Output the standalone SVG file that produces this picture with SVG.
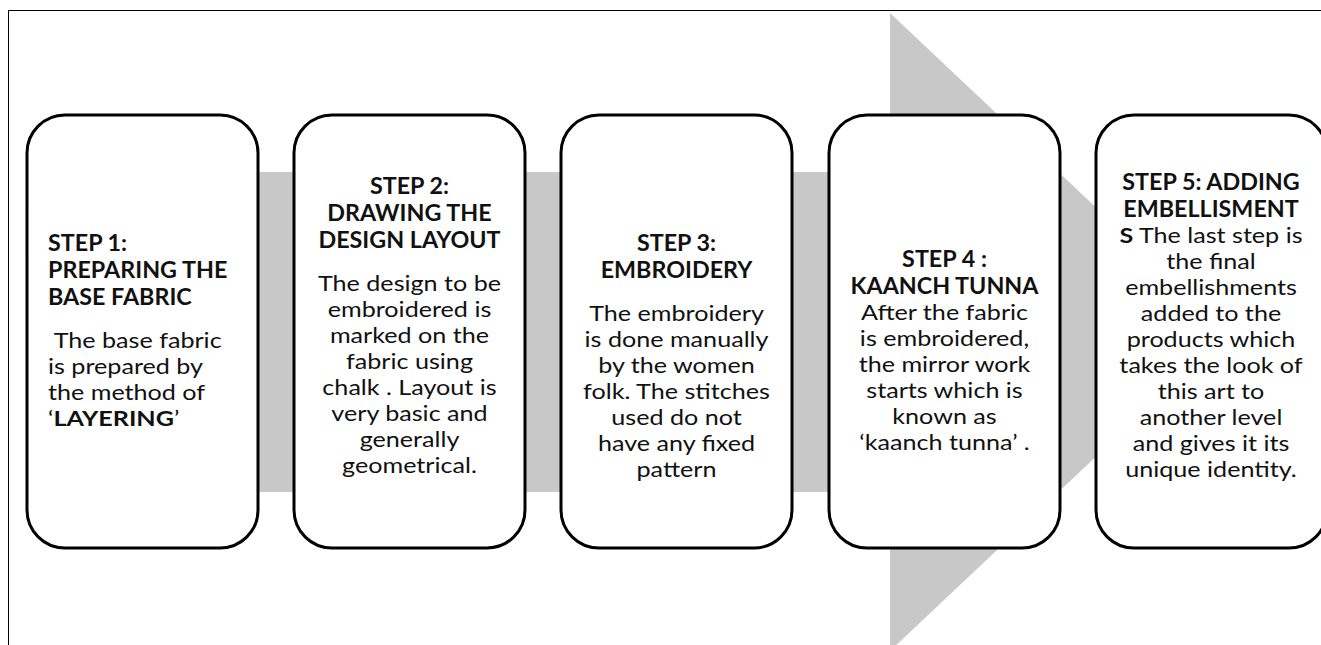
<svg xmlns="http://www.w3.org/2000/svg" width="1321" height="645" viewBox="0 0 1321 645">
<style>
.box{fill:#fff;stroke:#000;stroke-width:3}
.t{font-family:Lato,"Open Sans","Liberation Sans",sans-serif;font-size:21.5px;fill:#111}
.b{font-weight:bold}
.h{font-size:22px}
.c{text-anchor:middle}
</style>
<rect x="0" y="0" width="1321" height="645" fill="#fff"/>
<rect x="8.5" y="10.5" width="1330" height="650" fill="none" stroke="#000" stroke-width="1"/>
<g id="connectors">
<path d="M140 172 H890 V13 L1228 332 L890 651 V492 H140 Z" fill="#c8c8c8"/>
</g>
<g id="step1">
<rect class="box" x="27" y="115" width="231" height="433" rx="38"/>
<g transform="translate(48 0) scale(1.06 1)">
<text class="t b h" x="0" y="251">STEP 1:</text>
<text class="t b h" x="0" y="278">PREPARING THE</text>
<text class="t b h" x="0" y="305">BASE FABRIC</text>
</g>
<g transform="translate(48 0) scale(1.17 1)">
<text class="t" x="0" y="348" xml:space="preserve"> The base fabric</text>
<text class="t" x="0" y="374">is prepared by</text>
<text class="t" x="0" y="400">the method of</text>
<text class="t" x="0" y="426">‘<tspan class="b">LAYERING</tspan>’</text>
</g>
</g>
<g id="step2">
<rect class="box" x="294" y="115" width="231" height="433" rx="38"/>
<g transform="translate(409.5 0) scale(1.06 1)">
<text class="t b h c" x="0" y="194">STEP 2:</text>
<text class="t b h c" x="0" y="221">DRAWING THE</text>
<text class="t b h c" x="0" y="248">DESIGN LAYOUT</text>
</g>
<g transform="translate(409.5 0) scale(1.17 1)">
<text class="t c" x="0" y="291">The design to be</text>
<text class="t c" x="0" y="317">embroidered is</text>
<text class="t c" x="0" y="343">marked on the</text>
<text class="t c" x="0" y="369">fabric using</text>
<text class="t c" x="0" y="395">chalk . Layout is</text>
<text class="t c" x="0" y="421">very basic and</text>
<text class="t c" x="0" y="447">generally</text>
<text class="t c" x="0" y="473">geometrical.</text>
</g>
</g>
<g id="step3">
<rect class="box" x="561" y="115" width="231" height="433" rx="38"/>
<g transform="translate(676.5 0) scale(1.06 1)">
<text class="t b h c" x="0" y="251">STEP 3:</text>
<text class="t b h c" x="0" y="278">EMBROIDERY</text>
</g>
<g transform="translate(676.5 0) scale(1.17 1)">
<text class="t c" x="0" y="321">The embroidery</text>
<text class="t c" x="0" y="347">is done manually</text>
<text class="t c" x="0" y="373">by the women</text>
<text class="t c" x="0" y="399">folk. The stitches</text>
<text class="t c" x="0" y="425">used do not</text>
<text class="t c" x="0" y="451">have any fixed</text>
<text class="t c" x="0" y="477">pattern</text>
</g>
</g>
<g id="step4">
<rect class="box" x="829" y="115" width="231" height="433" rx="38"/>
<g transform="translate(944.5 0) scale(1.06 1)">
<text class="t b h c" x="0" y="267">STEP 4 :</text>
<text class="t b h c" x="0" y="294">KAANCH TUNNA</text>
</g>
<g transform="translate(944.5 0) scale(1.17 1)">
<text class="t c" x="0" y="320">After the fabric</text>
<text class="t c" x="0" y="346">is embroidered,</text>
<text class="t c" x="0" y="372">the mirror work</text>
<text class="t c" x="0" y="398">starts which is</text>
<text class="t c" x="0" y="424">known as</text>
<text class="t c" x="0" y="450">‘kaanch tunna’ .</text>
</g>
</g>
<g id="step5">
<rect class="box" x="1096" y="115" width="231" height="433" rx="38"/>
<g transform="translate(1211 0) scale(1.06 1)">
<text class="t b h c" x="0" y="190">STEP 5: ADDING</text>
<text class="t b h c" x="0" y="217">EMBELLISMENT</text>
</g>
<g transform="translate(1211 0) scale(1.17 1)">
<text class="t c" x="0" y="243"><tspan class="b">S</tspan> The last step is</text>
<text class="t c" x="0" y="269">the final</text>
<text class="t c" x="0" y="295">embellishments</text>
<text class="t c" x="0" y="321">added to the</text>
<text class="t c" x="0" y="347">products which</text>
<text class="t c" x="0" y="373">takes the look of</text>
<text class="t c" x="0" y="399">this art to</text>
<text class="t c" x="0" y="425">another level</text>
<text class="t c" x="0" y="451">and gives it its</text>
<text class="t c" x="0" y="477">unique identity.</text>
</g>
</g>
</svg>
